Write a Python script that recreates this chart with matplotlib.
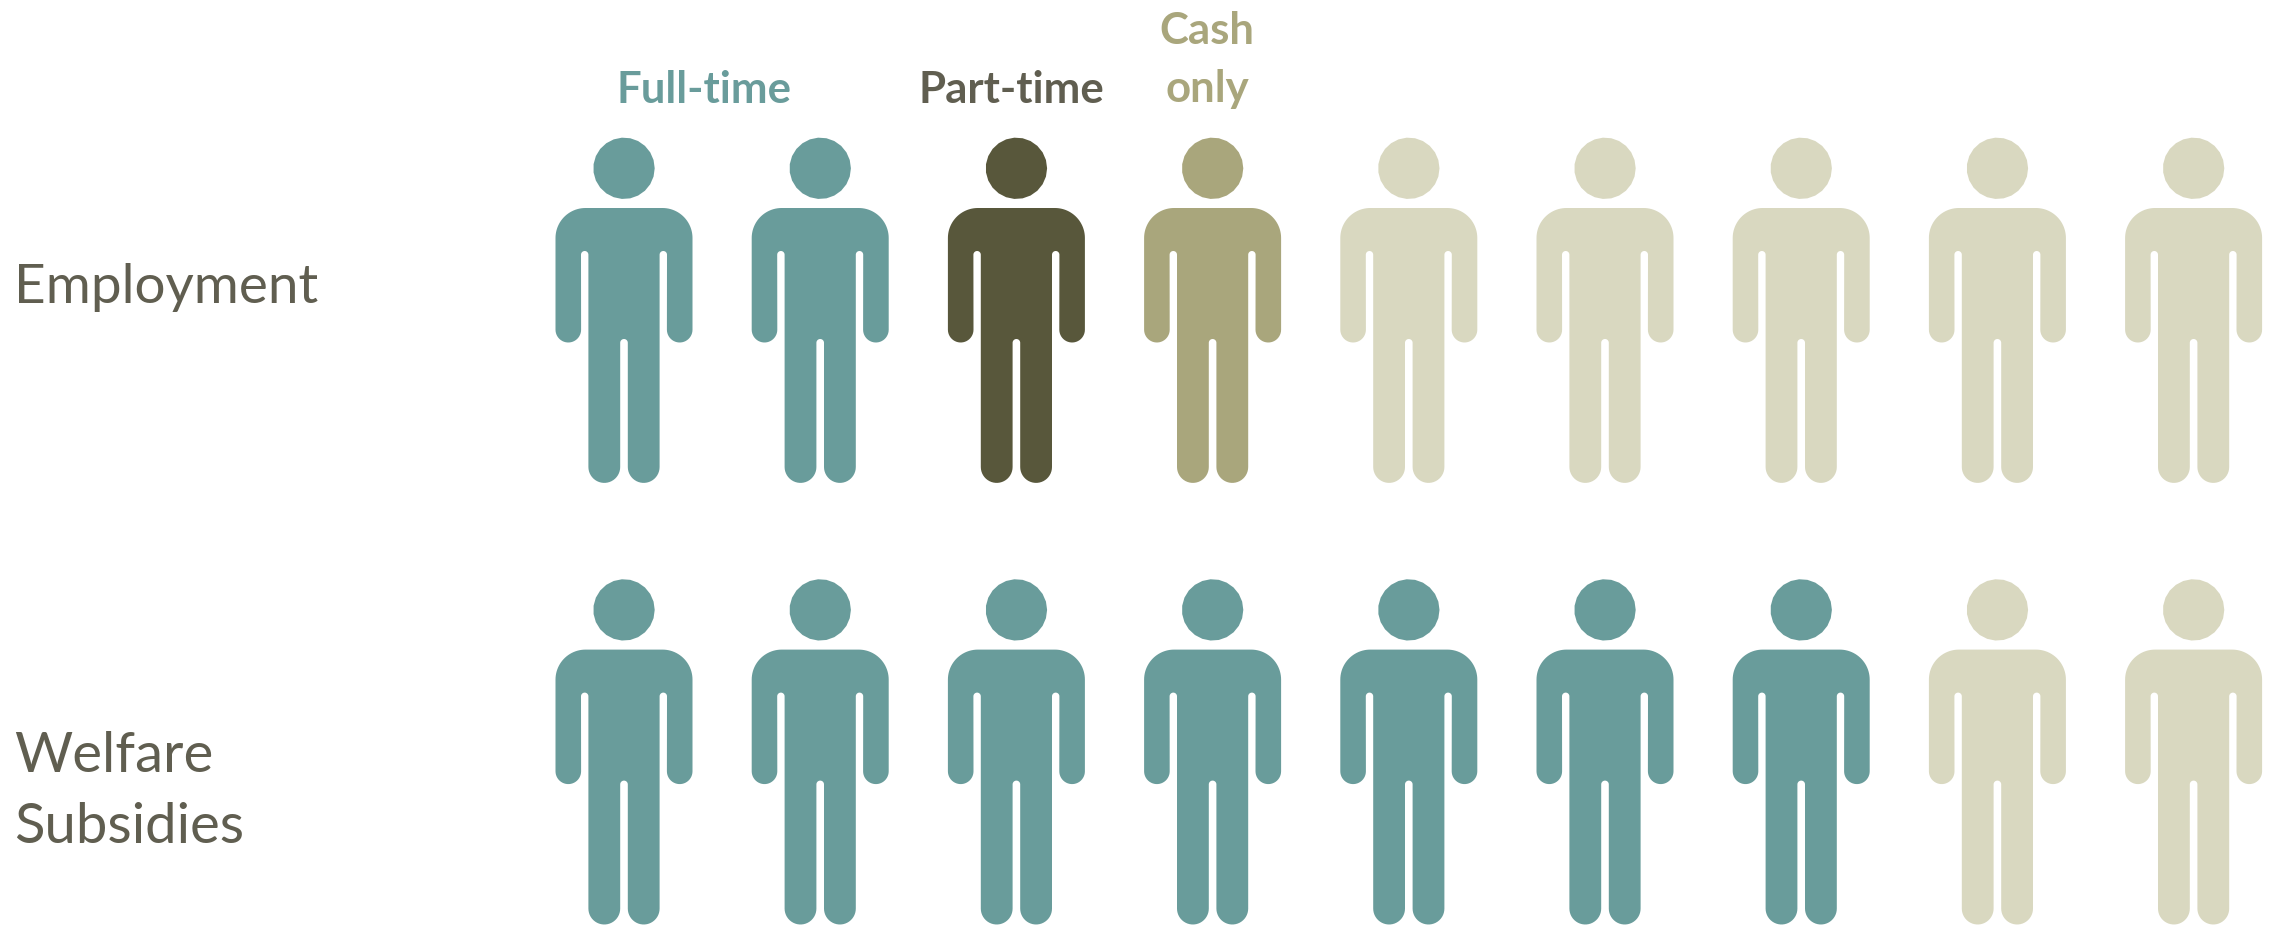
"""Pictogram of employment and welfare take-up, one figure per person"""

import numpy as np
import matplotlib
matplotlib.use('Agg')
import matplotlib.pyplot as plt

#-- chart values: how many of the 9 people fall in each group
row_labels = ['Employment', 'Welfare\nSubsidies']
group_labels = ['Full-time', 'Part-time', 'Cash\nonly']
employment = [2, 1, 1, 5]
welfare = [7, 0, 0, 2]

teal = '#699c9b'
dark = '#58573b'
khaki = '#a9a67c'
pale = '#d9d8c0'
text_grey = '#605e50'
group_colors = [teal, dark, khaki, pale]

#-------------------------------------------------------------------------------

def arc(cx, cy, r, start, stop):
    """Points along a circle, angles in degrees with y pointing down"""
    angles = np.radians(np.linspace(start, stop, 24))
    return np.column_stack([cx + r * np.cos(angles), cy + r * np.sin(angles)])

#-------------------------------------------------------------------------------

def body_outline():
    """Outline of the body, relative to the centre of the shoulder line"""
    half = np.vstack([
        [[0, 0]],
        arc(38.5, 30, 30, -90, 0),          # shoulder
        arc(55.7, 121.7, 12.8, 0, 180),     # hand
        arc(39.3, 46.7, 3.7, 0, -180),      # armpit
        arc(19.7, 259, 15.9, 0, 180),       # foot
        arc(0, 134.8, 3.8, 0, -90),         # crotch
    ])
    mirror = half[::-1] * [-1, 1]
    return np.vstack([half, mirror])

#-------------------------------------------------------------------------------

def draw_person(ax, x, y, color):
    """Draw one person with the shoulder line centred on x, y"""
    outline = body_outline()
    ax.fill(outline[:, 0] + x, outline[:, 1] + y, color=color, lw=0)
    head = arc(x, y - 39.7, 30.7, 0, 360)
    ax.fill(head[:, 0], head[:, 1], color=color, lw=0)

#-------------------------------------------------------------------------------

def main():
    fig = plt.figure(figsize=(22.82, 9.27), dpi=100)
    ax = fig.add_axes([0, 0, 1, 1])
    ax.set_xlim(0, 2282)
    ax.set_ylim(927, 0)
    ax.axis('off')

    #-- one row of people per category
    for counts, y in zip([employment, welfare], [208, 649.6]):
        colors = np.repeat(group_colors, counts)
        for i, color in enumerate(colors):
            draw_person(ax, 624 + i * 196.2, y, color)

    font = 'Lato'
    ax.text(14, 303, row_labels[0], color=text_grey, fontsize=39.5,
            family=font, va='baseline')
    ax.text(14, 843, row_labels[1], color=text_grey, fontsize=40.5,
            family=font, va='baseline', linespacing=1.5)

    ax.text(616, 103, group_labels[0], color=teal, fontsize=31.5,
            family=font, weight='bold', va='baseline')
    ax.text(918, 103, group_labels[1], color=text_grey, fontsize=31.5,
            family=font, weight='bold', va='baseline')
    ax.text(1207, 102, group_labels[2], color=khaki, fontsize=31.5,
            family=font, weight='bold', va='baseline', ha='center',
            multialignment='center', linespacing=1.56)

    fig.savefig('out.png', dpi=100, facecolor='white')

#-------------------------------------------------------------------------------

if __name__ == "__main__":
    main()
